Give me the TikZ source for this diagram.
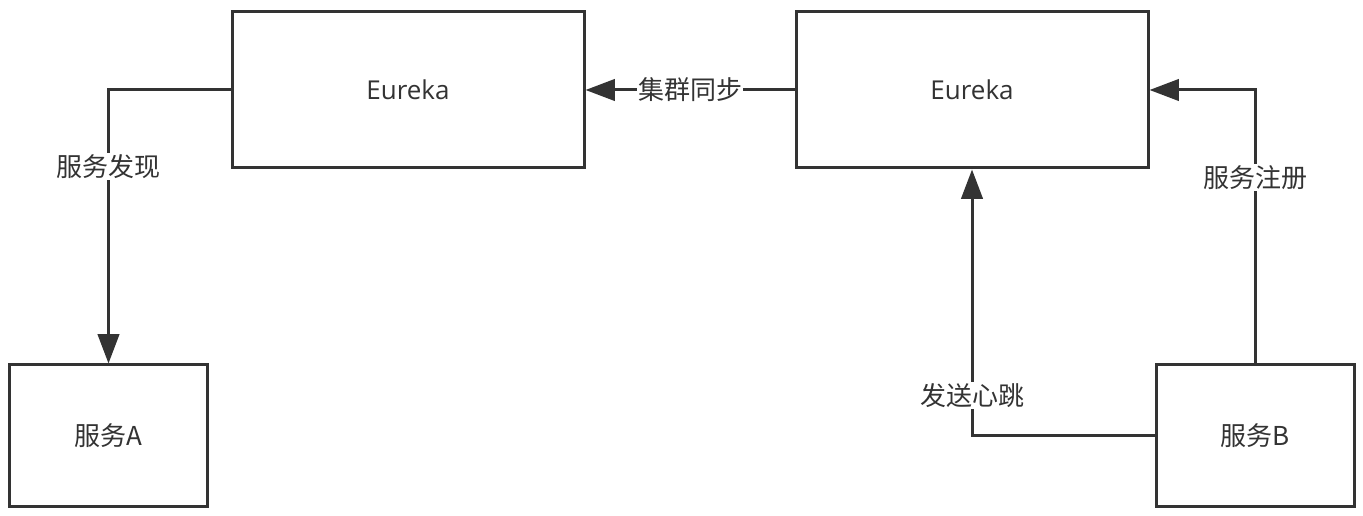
\documentclass[tikz,border=0pt]{standalone}
\usepackage{fontspec}
\setmainfont{Open Sans}
\newfontfamily\cjk{Noto Sans CJK SC}
\usetikzlibrary{arrows.meta}
\definecolor{ink}{RGB}{51,51,51}
\tikzset{every picture/.style={line width=2.25pt}}
\tikzset{
	box/.style={draw=ink, fill=white, text=ink, inner sep=0pt, font=\fontsize{19.5}{22}\selectfont},
	link/.style={draw=ink, -{Triangle[length=22pt,width=16pt]}},
	lbl/.style={fill=white, text=ink, inner sep=1pt, font=\cjk\fontsize{19.5}{22}\selectfont}
}

\begin{document}
\begin{tikzpicture}[x=0.75pt,y=0.75pt,yscale=-1,xscale=1]
	\useasboundingbox (0,0) rectangle (1363,516);

	% Boxes
	\node[box, minimum width=264pt, minimum height=117pt] (eurL) at (408,90) {Eureka};
	\node[box, minimum width=264pt, minimum height=117pt] (eurR) at (972,90) {Eureka};
	\node[box, minimum width=149pt, minimum height=105.75pt] (srvA) at (108.5,435.5) {\cjk 服务A};
	\node[box, minimum width=148.5pt, minimum height=105.75pt] (srvB) at (1255,435.5) {\cjk 服务B};

	% Connectors
	\draw[link] (eurL.west) -| (srvA.north) node[lbl, pos=0.64] {服务发现};
	\draw[link] (eurR.west) -- (eurL.east) node[lbl, midway] {集群同步};
	\draw[link] (srvB.north) |- (eurR.east) node[lbl, pos=0.34] {服务注册};
	\draw[link] (srvB.west) -| (eurR.south) node[lbl, pos=0.575] {发送心跳};

\end{tikzpicture}
\end{document}
